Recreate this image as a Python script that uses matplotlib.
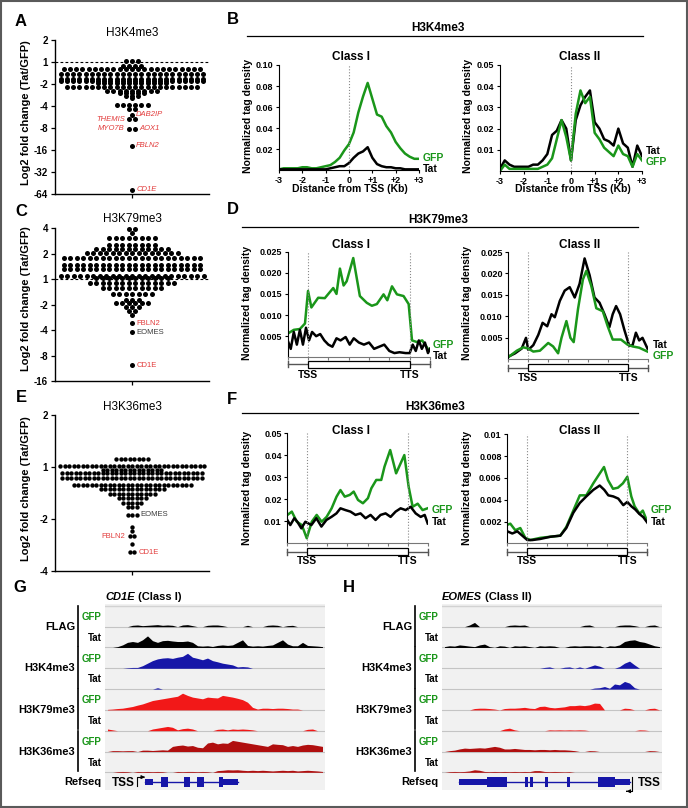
import numpy as np
import matplotlib
matplotlib.use('Agg')
import matplotlib.pyplot as plt
from matplotlib.patches import Rectangle

plt.rcParams['font.family'] = ['Liberation Sans', 'DejaVu Sans']
plt.rcParams['font.weight'] = 'bold'

# ---------------- data ----------------
# A / C / E : log2 fold change (Tat/GFP), rows of genes (level, number of genes)
a_levels = [0.05, -0.2, -0.33, -0.56, -0.78, -0.86, -0.94, -1.15, -1.3, -1.42, -1.55, -1.65,
            -1.95, -2.14, -2.38, -2.6, -3.02, -3.79, -5.8]
a_counts = [3, 4, 23, 24, 24, 24, 12, 22, 9, 5, 3, 1, 6, 2, 1, 2, 2, 1, 1]
a_genes = ['DAB2IP', 'THEMIS', 'MYO7B', 'AOX1', 'FBLN2', 'CD1E']
a_gene_vals = [-2.38, -2.6, -3.02, -3.02, -3.79, -5.8]
a_ticks = [1, 0, -1, -2, -3, -4, -5, -6]
a_ticklabels = ['2', '1', '-2', '-4', '-8', '-16', '-32', '-64']

c_levels = [1.97, 1.8, 1.62, 1.35, 1.18, 1.04, 0.82, 0.56, 0.4, 0.13, 0.04, -0.16, -0.35,
            -0.58, -0.81, -0.94, -1.07, -1.23, -1.4, -1.73, -2.08, -3.37]
c_counts = [2, 1, 8, 8, 12, 15, 22, 22, 22, 23, 12, 14, 10, 7, 3, 6, 3, 2, 1, 1, 1, 1]
c_genes = ['FBLN2', 'EOMES', 'CD1E']
c_gene_vals = [-1.73, -2.08, -3.37]
c_ticks = [2, 1, 0, -1, -2, -3, -4]
c_ticklabels = ['4', '2', '1', '-2', '-4', '-8', '-16']

e_levels = [0.15, 0.02, -0.06, -0.11, -0.21, -0.35, -0.43, -0.52, -0.6, -0.69, -0.78, -0.92,
            -1.15, -1.24, -1.34, -1.49, -1.64]
e_counts = [8, 33, 14, 32, 32, 27, 15, 11, 7, 5, 3, 3, 1, 1, 2, 1, 2]
e_genes = ['EOMES', 'FBLN2', 'CD1E']
e_gene_vals = [-0.92, -1.34, -1.64]
e_ticks = [1, 0, -1, -2]
e_ticklabels = ['2', '1', '-2', '-4']

# B : H3K4me3 around TSS (kb)
b_kb = [-3.0, -2.8, -2.6, -2.4, -2.2, -2.0, -1.8, -1.6, -1.4, -1.2, -1.0, -0.8, -0.6, -0.4, -0.2,
        0.0, 0.2, 0.4, 0.6, 0.8, 1.0, 1.2, 1.4, 1.6, 1.8, 2.0, 2.2, 2.4, 2.6, 2.8, 3.0]
b1_gfp = [.001, .002, .002, .002, .002, .003, .003, .002, .002, .003, .004, .005, .008, .012, .019,
          .025, .036, .055, .070, .083, .068, .053, .051, .042, .036, .027, .021, .016, .013, .011, .011]
b1_tat = [.001, .001, .001, .001, .001, .001, .001, .001, .001, .001, .001, .002, .003, .004, .004,
          .007, .012, .016, .018, .022, .012, .006, .004, .003, .003, .002, .002, .001, .001, .001, .001]
b2_gfp = [.000, .003, .001, .001, .001, .001, .001, .001, .001, .002, .003, .006, .015, .024, .016,
          .005, .027, .038, .032, .035, .018, .015, .011, .009, .007, .012, .008, .007, .002, .008, .005]
b2_tat = [.001, .005, .003, .002, .002, .002, .002, .003, .003, .005, .008, .017, .019, .024, .020,
          .005, .024, .031, .035, .038, .023, .020, .015, .014, .012, .020, .013, .011, .002, .012, .007]

# D : H3K79me3 over gene body (% of gene, TSS = 0, TTS = 100)
d1_gfp_x = [-20, -14, -8, -3, 0, 3.3, 10, 16.5, 24.8, 28, 31.4, 35, 38, 44.5, 51, 57.8, 62.8, 67.7,
            74.3, 78, 82.6, 87.5, 94, 99, 102.3, 107.3, 112.3, 118.8, 120]
d1_gfp_y = [.0056, .0065, .0067, .008, .0157, .0118, .0141, .014, .0164, .015, .021, .017, .018,
            .0235, .0145, .0129, .0122, .0126, .0149, .0135, .0168, .0149, .0145, .0126, .004, .0036,
            .004, .0017, .002]
d1_tat_x = [-20, -17, -14, -11, -8, -5, -2, 1, 4, 8, 12, 16, 20, 24, 28, 32, 37, 41, 45, 50, 55, 60,
            65, 70, 75, 80, 85, 90, 96, 100, 103, 106, 109, 112, 115, 118, 120]
d1_tat_y = [.004, .002, .006, .003, .0065, .003, .007, .004, .006, .005, .0055, .004, .003, .0025,
            .0045, .004, .0048, .003, .0045, .0035, .003, .0035, .002, .0025, .003, .0015, .001, .0012,
            .001, .001, .003, .0015, .004, .002, .0035, .001, .002]
d2_gfp_x = [-20, -11.5, -5, 0, 5, 11.6, 19.9, 24.8, 29.8, 33.2, 38.1, 42.1, 45.4, 49.7, 54.6, 58, 63,
            68, 74.5, 79.4, 84.4, 92.7, 99.3, 104.3, 110.9, 119.2]
d2_gfp_y = [.0005, .002, .0028, .0025, .0018, .002, .0038, .003, .0014, .005, .0089, .005, .004, .0117,
            .0186, .0206, .0171, .0119, .0112, .0077, .0046, .0046, .0034, .003, .0027, .0018]
d2_tat_x = [-20, -13.2, -6.6, -2.3, 0, 5, 10, 14.3, 18.9, 23.2, 26.5, 31.5, 36.4, 41.4, 46.4, 51.3,
            56.3, 61.3, 66.2, 71.2, 76.2, 81.1, 84.4, 87.8, 91.8, 96, 101, 104.3, 107.6, 110.9, 114.2,
            119.2]
d2_tat_y = [.0006, .0014, .0025, .005, .0022, .0033, .0057, .0085, .0077, .0105, .0098, .0136, .016,
            .0168, .0144, .0176, .0235, .0196, .0144, .0132, .0105, .0075, .0105, .0124, .0105, .0069,
            .0031, .0033, .0062, .0044, .005, .0025]

# F : H3K36me3 over gene body
f1_gfp_x = [-19.8, -15.5, -10.5, -5.5, -0.6, 4.4, 9.3, 14.3, 19.2, 24.2, 29.1, 33, 37.3, 42.3, 46.2,
            50.5, 55.4, 60.4, 63.8, 68.7, 73.7, 76.9, 82.6, 88.5, 96.7, 101, 105, 110, 114.9, 119.8]
f1_gfp_y = [.0129, .0144, .0098, .0083, .0023, .0098, .0129, .0098, .012, .0159, .0212, .0242, .0212,
            .022, .0235, .0197, .0182, .0205, .025, .0288, .0288, .0348, .0424, .0318, .0401, .0257,
            .0166, .018, .0151, .0159]
f1_tat_x = [-20, -17, -13, -10, -6, -2, 4, 9, 14, 19, 24, 29, 33, 38, 43, 48, 53, 58, 63, 68, 73, 78,
            83, 88, 93, 98, 103, 108, 113, 117, 120]
f1_tat_y = [.0106, .0083, .0114, .0098, .0068, .0098, .0083, .0114, .0076, .0106, .012, .0136, .0159,
            .0151, .0144, .0129, .0136, .0114, .0129, .0106, .0129, .0136, .012, .0144, .0159, .0151,
            .0166, .0136, .012, .0129, .009]
f2_gfp_x = [-20, -17, -12, -7, -2, 3, 13, 23, 33, 39, 46, 52.5, 59, 66, 72.4, 76.7, 80.7, 85.7, 90.6,
            95.6, 100, 104, 107.3, 112.3, 115.5, 119.5]
f2_gfp_y = [.0017, .0018, .0012, .0014, .0005, .0003, .0005, .0006, .0007, .0015, .003, .0044, .0044,
            .0055, .0064, .007, .0058, .005, .0051, .0055, .0061, .0043, .0034, .0027, .003, .0021]
f2_tat_x = [-20, -15, -10, -5, 0, 5, 13, 23, 33, 39, 46, 52.5, 59, 66, 72.4, 77, 81, 86, 91, 96, 100,
            104, 108, 112, 116, 120]
f2_tat_y = [.0011, .0009, .0011, .0007, .0003, .0003, .0004, .0006, .0007, .0014, .0028, .0037, .0043,
            .0049, .0053, .0049, .0044, .0043, .0041, .0035, .0038, .0034, .0031, .0027, .0024, .0019]

# G / H : genome browser tracks, 44 bins across the locus (relative height)
g_flag_gfp = [0, 0, 0, 0, 0, .08, .1, .06, .08, .1, .12, .08, .1, .08, 0, .1, .12, .06, 0, 0, .08, .1,
              .1, .06, 0, 0, 0, 0, .08, 0, 0, 0, .08, .1, .08, 0, .06, .08, 0, 0, 0, 0, 0, 0]
g_flag_tat = [0, 0, .05, .15, .3, .35, .3, .45, .68, .4, .3, .4, .42, .38, .35, .35, .38, .3, .1, .08,
              .1, .06, .12, .15, .12, .15, .3, .45, .12, .08, .1, .08, .12, .15, .3, .45, .2, .1, .1,
              .3, .12, .1, .08, .05]
g_k4_gfp = [0, 0, 0, 0, .03, .05, .05, .15, .3, .45, .55, .6, .62, .58, .65, .7, .88, .65, .58, .5,
            .6, .45, .38, .3, .25, .2, .08, .1, .08, 0, 0, 0, 0, 0, 0, 0, 0, 0, 0, 0, 0, 0, 0, 0]
g_k4_tat = [0, 0, 0, 0, 0, 0, 0, 0, 0, 0, .08, 0, 0, 0, 0, 0, 0, 0, 0, 0, 0, 0, 0, 0, 0, 0, 0, 0, 0,
            0, 0, 0, 0, 0, 0, 0, 0, 0, 0, 0, 0, 0, 0, 0]
g_k79_gfp = [.03, .05, .08, .1, .15, .2, .28, .35, .45, .55, .6, .65, .7, .75, .8, .98, .85, .75, .7,
             .65, .75, .72, .7, .85, .8, .75, .68, .6, .45, .15, .05, .1, .1, .08, .1, .1, .08, .05,
             .05, 0, 0, 0, 0, 0]
g_k79_tat = [.1, .05, 0, 0, 0, 0, 0, 0, 0, .1, .15, .2, .25, .2, .05, .12, .15, .1, 0, 0, 0, 0, .08,
             .1, .05, .1, .08, .1, .08, .05, 0, 0, 0, 0, 0, 0, 0, 0, 0, 0, .08, .1, 0, 0]
g_k36_gfp = [0, .05, .05, .04, .05, .05, 0, .08, .08, .06, .08, .1, .08, .3, .35, .38, .32, .35, .25,
             .22, .5, .55, .45, .5, .48, .65, .6, .55, .5, .45, .4, .35, .3, .45, .42, .4, .3, .35,
             .3, .38, .42, .4, .35, .3]
g_k36_tat = [0, 0, .04, .05, .04, 0, .05, .04, .05, .04, .05, .04, 0, 0, .05, .04, .05, .05, .04, .05,
             .04, 0, .1, .12, .15, .14, .15, .12, .1, .12, .1, .12, .1, .08, .1, .12, .1, .12, .08,
             .1, .12, .1, .08, .05]
g_exon_start = [8, 11.2, 15.7, 18.3, 22.7, 23.5]
g_exon_end = [9.5, 12.5, 17, 19.7, 23.5, 26.5]
g_exon_coding = [False, True, True, True, True, False]
g_tss = 6.4

h_flag_gfp = [0, 0, 0, 0, 0, .1, .25, 0, 0, 0, 0, 0, 0, .08, .1, .08, .1, 0, 0, 0, 0, 0, 0, 0, 0, 0,
              0, 0, .08, .1, 0, 0, 0, 0, 0, .08, .1, .1, .06, 0, 0, .08, .1, 0]
h_flag_tat = [.05, .1, .08, .15, .12, .08, .05, .15, .2, .05, 0, .1, .08, 0, .1, .08, .1, .05, 0, .1,
              .08, .1, .08, 0, 0, .08, .1, .08, .1, .1, .08, .1, 0, .1, .08, .15, .35, .42, .45, .35,
              .3, .2, .1, .05]
h_k4_gfp = [0, 0, 0, 0, 0, 0, 0, 0, 0, 0, 0, 0, 0, 0, 0, 0, 0, 0, 0, 0, .05, .08, 0, 0, .06, .08, 0,
            .08, 0, .1, .2, .12, 0, 0, 0, .1, .3, .42, .2, 0, 0, 0, 0, 0]
h_k4_tat = [0, 0, 0, 0, 0, 0, 0, 0, 0, 0, 0, 0, 0, 0, 0, 0, 0, 0, 0, 0, 0, 0, 0, 0, 0, 0, 0, 0, 0, 0,
            .06, .08, .15, .05, .3, .25, .45, .35, .08, 0, 0, 0, 0, 0]
h_k79_gfp = [0, 0, 0, 0, 0, 0, .08, .1, .1, .08, .05, 0, .08, .1, .1, .12, .15, .1, .08, .2, .22, .15,
             .12, .15, .18, .25, .25, .28, .25, .3, .4, .38, 0, 0, 0, 0, .1, .08, 0, 0, 0, .08, .1, 0]
h_k79_tat = [0, 0, 0, 0, 0, 0, 0, 0, 0, 0, 0, 0, .1, .15, .05, 0, 0, 0, 0, 0, 0, .05, .04, .05, .04,
             .05, .04, .05, .04, 0, 0, 0, 0, 0, 0, 0, 0, 0, 0, .05, .04, 0, 0, 0]
h_k36_gfp = [0, .05, .08, .15, .2, .18, .2, .22, .2, .25, .3, .25, .15, .15, .18, .15, .12, .12, .1,
             .12, .12, .1, .12, .1, .1, .08, .05, 0, 0, .05, .04, 0, 0, 0, 0, 0, 0, 0, 0, 0, 0, .05,
             .04, 0]
h_k36_tat = [0, .04, .05, .04, .05, .08, .15, .12, .05, .04, .05, .04, .05, .04, .05, .04, .05, .04,
             .1, .1, .05, .04, .05, .04, .03, .04, 0, 0, 0, 0, 0, 0, 0, 0, 0, 0, 0, 0, 0, 0, 0, 0, 0, 0]
h_exon_start = [3.3, 9, 16.6, 17.6, 20.6, 25, 31.2, 34.6]
h_exon_end = [9, 13, 17.2, 18.2, 21.2, 25.6, 34.6, 37.6]
h_exon_coding = [False, True, True, True, True, True, True, False]
h_tss = 37.9

track_names = ['FLAG', 'H3K4me3', 'H3K79me3', 'H3K36me3']

# ---------------- figure ----------------
W, H = 688, 808
fig = plt.figure(figsize=(W / 100, H / 100), dpi=100)
GREEN = '#1a961a'
RED = '#e23b3b'
track_colors = ['black', '#1616a8', '#f21818', '#b00f0f']


def box(l, t, r, b):
    return [l / W, 1 - b / H, (r - l) / W, (b - t) / H]


ov = fig.add_axes([0, 0, 1, 1], zorder=20)
ov.set_xlim(0, W)
ov.set_ylim(H, 0)
ov.axis('off')
ov.patch.set_alpha(0)
ov.add_patch(Rectangle((1, 1), W - 2, H - 2, fill=False, ec='#5a5a5a', lw=1.5))


def txt(x, y, s, **kw):
    kw.setdefault('ha', 'center')
    kw.setdefault('va', 'center')
    return ov.text(x, y, s, **kw)


def dot_panel(rect, levels, counts, spacing, ylim, ticks, ticklabels, s, genes, gene_vals,
              gene_cols, left_names, italic, dashed):
    l, t, r, b = rect
    ax = fig.add_axes(box(*rect))
    unit = 2.0 / (r - l)
    xs, ys = [], []
    for lv, n in zip(levels, counts):
        xs += list((np.arange(n) - (n - 1) / 2) * spacing * unit)
        ys += [lv] * n
    xs, ys = np.array(xs), np.array(ys)
    ax.scatter(xs, ys, s=s, c='k', linewidths=0, clip_on=False, zorder=3)
    ax.set_xlim(-1, 1)
    ax.set_ylim(*ylim)
    ax.set_yticks(ticks)
    ax.set_yticklabels(ticklabels)
    ax.set_xticks([0])
    ax.set_xticklabels([])
    ax.tick_params(length=3, width=0.9, labelsize=7, pad=2)
    for sp in ('top', 'right'):
        ax.spines[sp].set_visible(False)
    for sp in ('left', 'bottom'):
        ax.spines[sp].set_linewidth(1)
    ax.patch.set_alpha(0)
    if dashed:
        ax.axhline(0, color='k', ls=(0, (2.5, 2)), lw=0.8, zorder=1)
    for name, v, col in zip(genes, gene_vals, gene_cols):
        row = xs[np.isclose(ys, v)]
        if name in left_names:
            x0, ha, dx = row.min(), 'right', -3
        else:
            x0, ha, dx = row.max(), 'left', 3
        ax.annotate(name, (x0, v), xytext=(dx, 0), textcoords='offset points', ha=ha,
                    va='center', fontsize=5.5, color=col, fontweight='normal',
                    fontstyle='italic' if italic else 'normal')
    return ax


# A, C, E
dot_panel((55, 40, 209, 194.3), a_levels, a_counts, 6.2, (-6, 1), a_ticks, a_ticklabels, 13,
          a_genes, a_gene_vals, [RED] * 6, {'THEMIS', 'MYO7B'}, True, True)
dot_panel((55, 228.3, 209, 381.3), c_levels, c_counts, 6.5, (-4, 2), c_ticks, c_ticklabels, 13,
          c_genes, c_gene_vals, [RED, '#3a3a3a', RED], set(), False, True)
dot_panel((55, 415, 209, 570.7), e_levels, e_counts, 4.5, (-2, 1), e_ticks, e_ticklabels, 10,
          e_genes, e_gene_vals, ['#3a3a3a', RED, RED], {'FBLN2'}, False, False)

for ttl, y in (('H3K4me3', 33), ('H3K79me3', 219), ('H3K36me3', 406.7)):
    txt(132, y, ttl, fontsize=8.5, fontweight='normal')
for y in (113, 299, 489):
    txt(26, y, 'Log2 fold change (Tat/GFP)', rotation=90, fontsize=8)

for lab, x, y in (('A', 21, 22), ('B', 233, 20), ('C', 21, 212), ('D', 233, 210), ('E', 21, 398),
                  ('F', 232, 399), ('G', 20, 588), ('H', 349, 588)):
    txt(x, y, lab, fontsize=12)


def prof_axes(rect, ylim, yticks, ylabels):
    ax = fig.add_axes(box(*rect))
    ax.set_ylim(*ylim)
    ax.set_yticks(yticks)
    ax.set_yticklabels(ylabels)
    for sp in ('top', 'right'):
        ax.spines[sp].set_visible(False)
    ax.spines['left'].set_linewidth(0.8)
    ax.spines['bottom'].set_linewidth(0.8)
    ax.tick_params(labelsize=6.5, length=2.5, width=0.8, pad=1.5)
    ax.patch.set_alpha(0)
    return ax


def gene_body(ax, rect, line_px, label_px):
    h = rect[3] - rect[1]
    tr = ax.get_xaxis_transform()
    yl = -line_px / h
    ax.plot([-20, 120], [yl, yl], color='#555555', lw=1, transform=tr, clip_on=False)
    for xe in (-20, 120):
        ax.plot([xe, xe], [yl - 3 / h, yl + 3 / h], color='#555555', lw=1, transform=tr,
                clip_on=False)
    ax.add_patch(Rectangle((0, yl - 3.3 / h), 100, 6.6 / h, transform=tr, fc='white', ec='k',
                           lw=0.9, clip_on=False, zorder=3))
    for xv, s in ((0, 'TSS'), (100, 'TTS')):
        ax.text(xv, -label_px / h, s, transform=tr, ha='center', va='center', fontsize=7.5)


# B
rb1 = (279, 65, 419, 170.4)
ax = prof_axes(rb1, (0, 0.1), [0.02, 0.04, 0.06, 0.08, 0.10],
               ['0.02', '0.04', '0.06', '0.08', '0.10'])
ax.plot(b_kb, b1_gfp, color=GREEN, lw=1.8)
ax.plot(b_kb, b1_tat, color='k', lw=1.8)
rb2 = (500, 65, 642, 171)
ax2 = prof_axes(rb2, (0, 0.05), [0.01, 0.02, 0.03, 0.04, 0.05],
                ['0.01', '0.02', '0.03', '0.04', '0.05'])
ax2.plot(b_kb, b2_tat, color='k', lw=1.8)
ax2.plot(b_kb, b2_gfp, color=GREEN, lw=1.8)
for a in (ax, ax2):
    a.set_xlim(-3, 3)
    a.set_xticks([-3, -2, -1, 0, 1, 2, 3])
    a.set_xticklabels(['-3', '-2', '-1', '0', '+1', '+2', '+3'])
    a.axvline(0, color='#888888', ls=':', lw=0.8)
txt(438, 28, 'H3K4me3', fontsize=8.5)
ov.plot([246.7, 643], [36, 36], color='k', lw=0.9)
txt(350.7, 57.3, 'Class I', fontsize=8.5)
txt(580, 57.3, 'Class II', fontsize=8.5)
txt(350.3, 188.5, 'Distance from TSS (Kb)', fontsize=7.5)
txt(573.3, 189, 'Distance from TSS (Kb)', fontsize=7.5)
txt(423, 158, 'GFP', ha='left', color=GREEN, fontsize=7.5)
txt(423, 168.5, 'Tat', ha='left', fontsize=7.5)
txt(646, 151, 'Tat', ha='left', fontsize=7.5)
txt(646, 162, 'GFP', ha='left', color=GREEN, fontsize=7.5)
for x in (247.7, 468.3):
    txt(x, 116, 'Normalized tag density', rotation=90, fontsize=7.5)


def body_panel(rect, gfp_x, gfp_y, tat_x, tat_y, ylim, yticks, ylabels, line_px, label_px,
               tat_first):
    ax = prof_axes(rect, ylim, yticks, ylabels)
    curves = [(tat_x, tat_y, 'k'), (gfp_x, gfp_y, GREEN)]
    if not tat_first:
        curves = curves[::-1]
    for cx, cy, col in curves:
        ax.plot(cx, cy, color=col, lw=1.8)
    ax.set_xlim(-20, 120)
    ax.set_xticks([-20, 0, 20, 40, 60, 80, 100, 120])
    ax.set_xticklabels([])
    ax.spines['bottom'].set_color('#777777')
    ax.tick_params(axis='x', colors='#777777', length=2)
    for xv in (0, 100):
        ax.axvline(xv, color='#888888', ls=':', lw=0.8)
    gene_body(ax, rect, line_px, label_px)
    return ax


# D
rd1 = (287.7, 251.7, 430, 357.3)
rd2 = (508.3, 252, 648.3, 359.3)
d_ticks = [0.005, 0.010, 0.015, 0.020, 0.025]
d_labels = ['0.005', '0.010', '0.015', '0.020', '0.025']
body_panel(rd1, d1_gfp_x, d1_gfp_y, d1_tat_x, d1_tat_y, (0, 0.025), d_ticks, d_labels, 7, 17.7,
           False)
body_panel(rd2, d2_gfp_x, d2_gfp_y, d2_tat_x, d2_tat_y, (0, 0.025), d_ticks, d_labels, 8.4, 18.4,
           True)
txt(438, 220, 'H3K79me3', fontsize=8.5)
ov.plot([241.7, 638], [226.7, 226.7], color='k', lw=0.9)
txt(350.7, 245, 'Class I', fontsize=8.5)
txt(580, 245, 'Class II', fontsize=8.5)
txt(433, 345, 'GFP', ha='left', color=GREEN, fontsize=7.5)
txt(433, 355.7, 'Tat', ha='left', fontsize=7.5)
txt(653, 345, 'Tat', ha='left', fontsize=7.5)
txt(653, 355.7, 'GFP', ha='left', color=GREEN, fontsize=7.5)
for x in (246.7, 467):
    txt(x, 303, 'Normalized tag density', rotation=90, fontsize=7.5)

# F
rf1 = (287.3, 433.3, 427.7, 543.3)
rf2 = (507.3, 434.3, 647.3, 543.3)
body_panel(rf1, f1_gfp_x, f1_gfp_y, f1_tat_x, f1_tat_y, (0, 0.05),
           [0.01, 0.02, 0.03, 0.04, 0.05], ['0.01', '0.02', '0.03', '0.04', '0.05'], 8.4, 17.7,
           False)
body_panel(rf2, f2_gfp_x, f2_gfp_y, f2_tat_x, f2_tat_y, (0, 0.01),
           [0.002, 0.004, 0.006, 0.008, 0.01], ['0.002', '0.004', '0.006', '0.008', '0.01'], 8.4,
           17.7, False)
txt(435, 406.7, 'H3K36me3', fontsize=8.5)
ov.plot([241.7, 638], [413.3, 413.3], color='k', lw=0.9)
txt(350.7, 430.7, 'Class I', fontsize=8.5)
txt(580, 430.7, 'Class II', fontsize=8.5)
txt(431.7, 510, 'GFP', ha='left', color=GREEN, fontsize=7.5)
txt(431.7, 521.7, 'Tat', ha='left', fontsize=7.5)
txt(650.7, 510, 'GFP', ha='left', color=GREEN, fontsize=7.5)
txt(650.7, 521.7, 'Tat', ha='left', fontsize=7.5)
for x in (246.7, 467):
    txt(x, 488, 'Normalized tag density', rotation=90, fontsize=7.5)


# G, H : genome browser views
def track_panel(rect, profiles, ex_s, ex_e, ex_cds, tss, tss_right, gene, cls):
    ax = fig.add_axes(box(*rect))
    ax.set_xlim(0, 44)
    ax.set_ylim(-8.94, 0)
    ax.set_facecolor('#f1f1f1')
    for sp in ax.spines.values():
        sp.set_visible(False)
    ax.set_xticks([])
    ax.set_yticks([])
    ax.axhline(-0.08, color='#d2d2d2', lw=1)
    xc = np.arange(44) + 0.5
    ytr = ax.get_yaxis_transform()
    for i, vals in enumerate(profiles):
        base = -(1.09 + i)
        ax.axhline(base, color='#c4c4c4', lw=0.8, zorder=1)
        ax.fill_between(xc, base, base + np.array(vals) * 0.82, color=track_colors[i // 2], lw=0,
                        zorder=2)
        sub, col = ('GFP', GREEN) if i % 2 == 0 else ('Tat', 'k')
        ax.text(-0.015, base + 0.47, sub, transform=ytr, ha='right', va='center', color=col,
                fontsize=7)
    for k, name in enumerate(track_names):
        top = -(1.09 + 2 * k) + 1.0
        bot = -(1.09 + 2 * k + 1) + 0.07
        ax.plot([-0.123, -0.123], [bot, top], color='k', lw=1.2, transform=ytr, clip_on=False)
        ax.text(-0.135, -(1.09 + 2 * k), name, transform=ytr, ha='right', va='center',
                fontsize=8)
    gy = -8.55
    ax.text(-0.015, gy, 'Refseq', transform=ytr, ha='right', va='center', fontsize=8)
    blue = '#1616a8'
    ax.plot([min(ex_s), max(ex_e)], [gy, gy], color=blue, lw=1, zorder=3)
    for s0, e0, cds in zip(ex_s, ex_e, ex_cds):
        hh = 0.45 if cds else 0.3
        ax.add_patch(Rectangle((s0, gy - hh / 2), e0 - s0, hh, color=blue, lw=0, zorder=4))
    if tss_right:
        ax.plot([tss, tss, tss - 0.5], [gy + 0.22, gy - 0.45, gy - 0.45], color='k', lw=0.8,
                clip_on=False)
        ax.annotate('', xy=(tss - 1.0, gy - 0.45), xytext=(tss - 0.4, gy - 0.45),
                    arrowprops=dict(arrowstyle='-|>', lw=0.8, color='k', mutation_scale=5),
                    annotation_clip=False)
        ax.text(tss + 1.3, gy - 0.05, 'TSS', ha='left', va='center', fontsize=8.5)
    else:
        ax.plot([tss, tss, tss + 0.9], [gy - 0.2, gy + 0.23, gy + 0.23], color='k', lw=0.8)
        ax.annotate('', xy=(tss + 1.6, gy + 0.23), xytext=(tss + 0.8, gy + 0.23),
                    arrowprops=dict(arrowstyle='-|>', lw=0.8, color='k', mutation_scale=5))
        ax.text(tss - 0.4, gy - 0.05, 'TSS', ha='right', va='center', fontsize=8.5)
    t = txt(rect[0], 597, gene, ha='left', fontstyle='italic', fontsize=8)
    ov.annotate(cls, xy=(1, 0.5), xycoords=t, ha='left', va='center', fontsize=8)
    return ax


rg = (105, 604, 325, 790)
rh = (442, 604, 662, 790)
track_panel(rg, [g_flag_gfp, g_flag_tat, g_k4_gfp, g_k4_tat, g_k79_gfp, g_k79_tat, g_k36_gfp,
                 g_k36_tat], g_exon_start, g_exon_end, g_exon_coding, g_tss, False, 'CD1E',
            ' (Class I)')
track_panel(rh, [h_flag_gfp, h_flag_tat, h_k4_gfp, h_k4_tat, h_k79_gfp, h_k79_tat, h_k36_gfp,
                 h_k36_tat], h_exon_start, h_exon_end, h_exon_coding, h_tss, True, 'EOMES',
            ' (Class II)')

fig.savefig('out.png', dpi=100)
